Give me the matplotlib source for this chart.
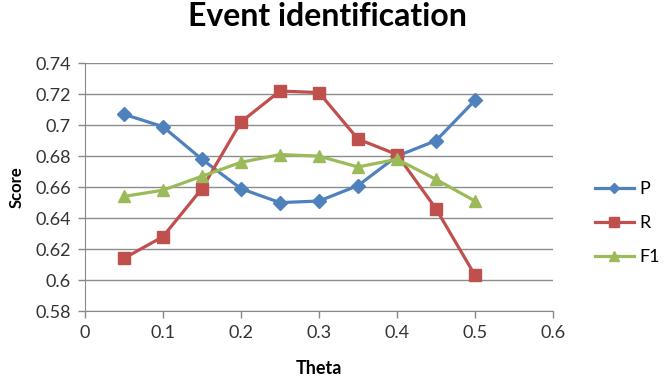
import matplotlib.pyplot as plt

theta = [0.05, 0.1, 0.15, 0.2, 0.25, 0.3, 0.35, 0.4, 0.45, 0.5]
p = [0.707, 0.699, 0.678, 0.659, 0.650, 0.651, 0.661, 0.680, 0.690, 0.716]
r = [0.614, 0.628, 0.659, 0.702, 0.722, 0.721, 0.691, 0.681, 0.646, 0.603]
f1 = [0.654, 0.658, 0.667, 0.676, 0.681, 0.680, 0.673, 0.678, 0.665, 0.651]

x_ticks = [0, 0.1, 0.2, 0.3, 0.4, 0.5, 0.6]
y_ticks = [0.58, 0.6, 0.62, 0.64, 0.66, 0.68, 0.7, 0.72, 0.74]

plt.rcParams['font.family'] = ['Lato', 'DejaVu Sans']

fig = plt.figure(figsize=(6.68, 3.78), dpi=100)
ax = fig.add_axes([0.127, 0.177, 0.701, 0.656])

ax.plot(theta, p, color='#4F81BD', marker='D', markersize=7, linewidth=2.3, label='P')
ax.plot(theta, r, color='#C0504D', marker='s', markersize=9, linewidth=2.3, label='R')
ax.plot(theta, f1, color='#9BBB59', marker='^', markersize=9, linewidth=2.3, label='F1')

ax.set_xlim(0, 0.6)
ax.set_ylim(0.58, 0.74)
ax.set_xticks(x_ticks)
ax.set_xticklabels(['0', '0.1', '0.2', '0.3', '0.4', '0.5', '0.6'])
ax.set_yticks(y_ticks)
ax.set_yticklabels(['0.58', '0.6', '0.62', '0.64', '0.66', '0.68', '0.7', '0.72', '0.74'])
ax.tick_params(labelsize=13, colors='#888888', labelcolor='#333333', length=5, width=1, pad=5)
ax.grid(axis='y', color='#8c8c8c', linewidth=1)
ax.set_axisbelow(True)
for s in ['top', 'right']:
    ax.spines[s].set_visible(False)
for s in ['left', 'bottom']:
    ax.spines[s].set_color('#888888')

ax.set_xlabel('Theta', fontsize=13, fontweight='bold', labelpad=14)
ax.set_ylabel('Score', fontsize=12, fontweight='bold', labelpad=8)
fig.suptitle('Event identification', fontsize=23, fontweight='bold', x=0.49, y=0.995)

ax.legend(loc='center left', bbox_to_anchor=(0.89, 0.41), bbox_transform=fig.transFigure,
          frameon=False, fontsize=13, handlelength=2.2, handletextpad=0.3, labelspacing=1.0,
          borderpad=0, borderaxespad=0, markerscale=0.8)

fig.savefig('out.png', dpi=100)
